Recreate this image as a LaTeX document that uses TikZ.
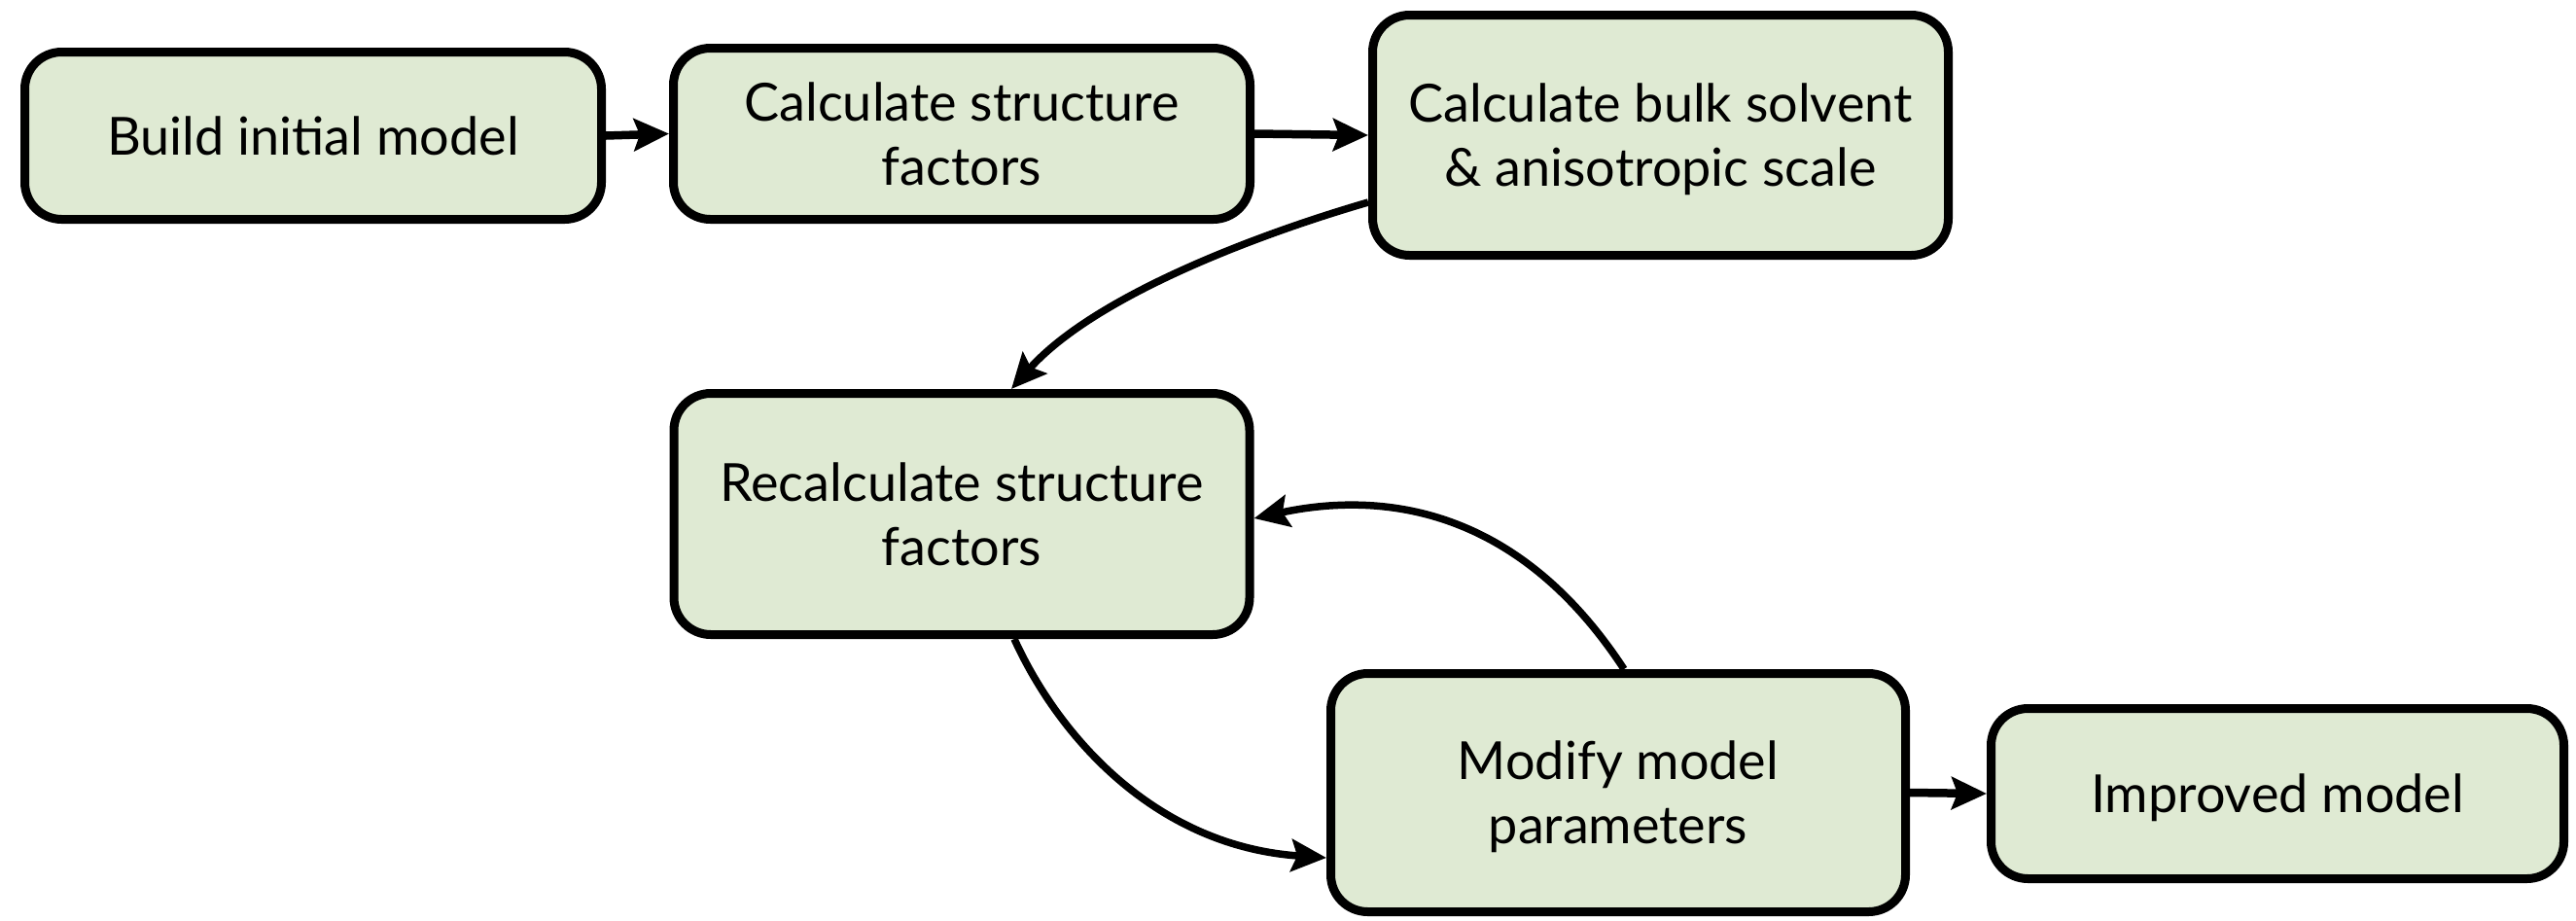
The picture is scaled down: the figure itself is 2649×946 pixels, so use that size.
\documentclass[tikz,border=0pt]{standalone}
\usepackage{fontspec}
\setmainfont{Lato}
\usetikzlibrary{arrows.meta,calc}
\definecolor{boxfill}{RGB}{223,234,211}
\begin{document}
\begin{tikzpicture}[x=1pt,y=-1pt,
  flowbox/.style={draw=black, line width=9pt, fill=boxfill, rounded corners=38pt,
    align=center, font=\fontsize{54}{66}\selectfont, text depth=0pt, inner sep=0pt},
  tipstyle/.style={-{Stealth[length=36pt,width=33pt,inset=6pt]}},
  straightarrow/.style={tipstyle, line width=8.5pt},
  curvedarrow/.style={tipstyle, line width=7.5pt}]
\useasboundingbox (0,0) rectangle (2649,946);

\node[flowbox, minimum width=593pt, minimum height=172pt] (n1) at (322,139.5) {Build initial model};
\node[flowbox, minimum width=593pt, minimum height=176pt] (n2) at (989,137.5) {Calculate structure\\factors};
\node[flowbox, minimum width=592pt, minimum height=247pt] (n3) at (1707.5,139) {Calculate bulk solvent\\\& anisotropic scale};
\node[flowbox, minimum width=592pt, minimum height=248pt] (n4) at (989,528.5) {Recalculate structure\\factors};
\node[flowbox, minimum width=591pt, minimum height=245pt] (n5) at (1664,815) {Modify model\\parameters};
\node[flowbox, minimum width=589pt, minimum height=175pt] (n6) at (2342,816) {Improved model};

\draw[straightarrow] (n1.east) -- (n2.west);
\draw[straightarrow] (n2.east) -- (n3.west);
\draw[straightarrow] (n5.east) -- (n6.west);

\draw[curvedarrow] ($(n3.west)+(0,69)$) .. controls (1290,242) and (1125,305) .. ($(n4.north)+(51,0)$);
\draw[curvedarrow] ($(n4.south)+(54,0)$) .. controls (1090,760) and (1190,870) .. ($(n5.west)+(0,67)$);
\draw[curvedarrow] ($(n5.north)+(6,0)$) .. controls (1560,520) and (1420,505) .. ($(n4.east)+(0,4.5)$);
\end{tikzpicture}
\end{document}
